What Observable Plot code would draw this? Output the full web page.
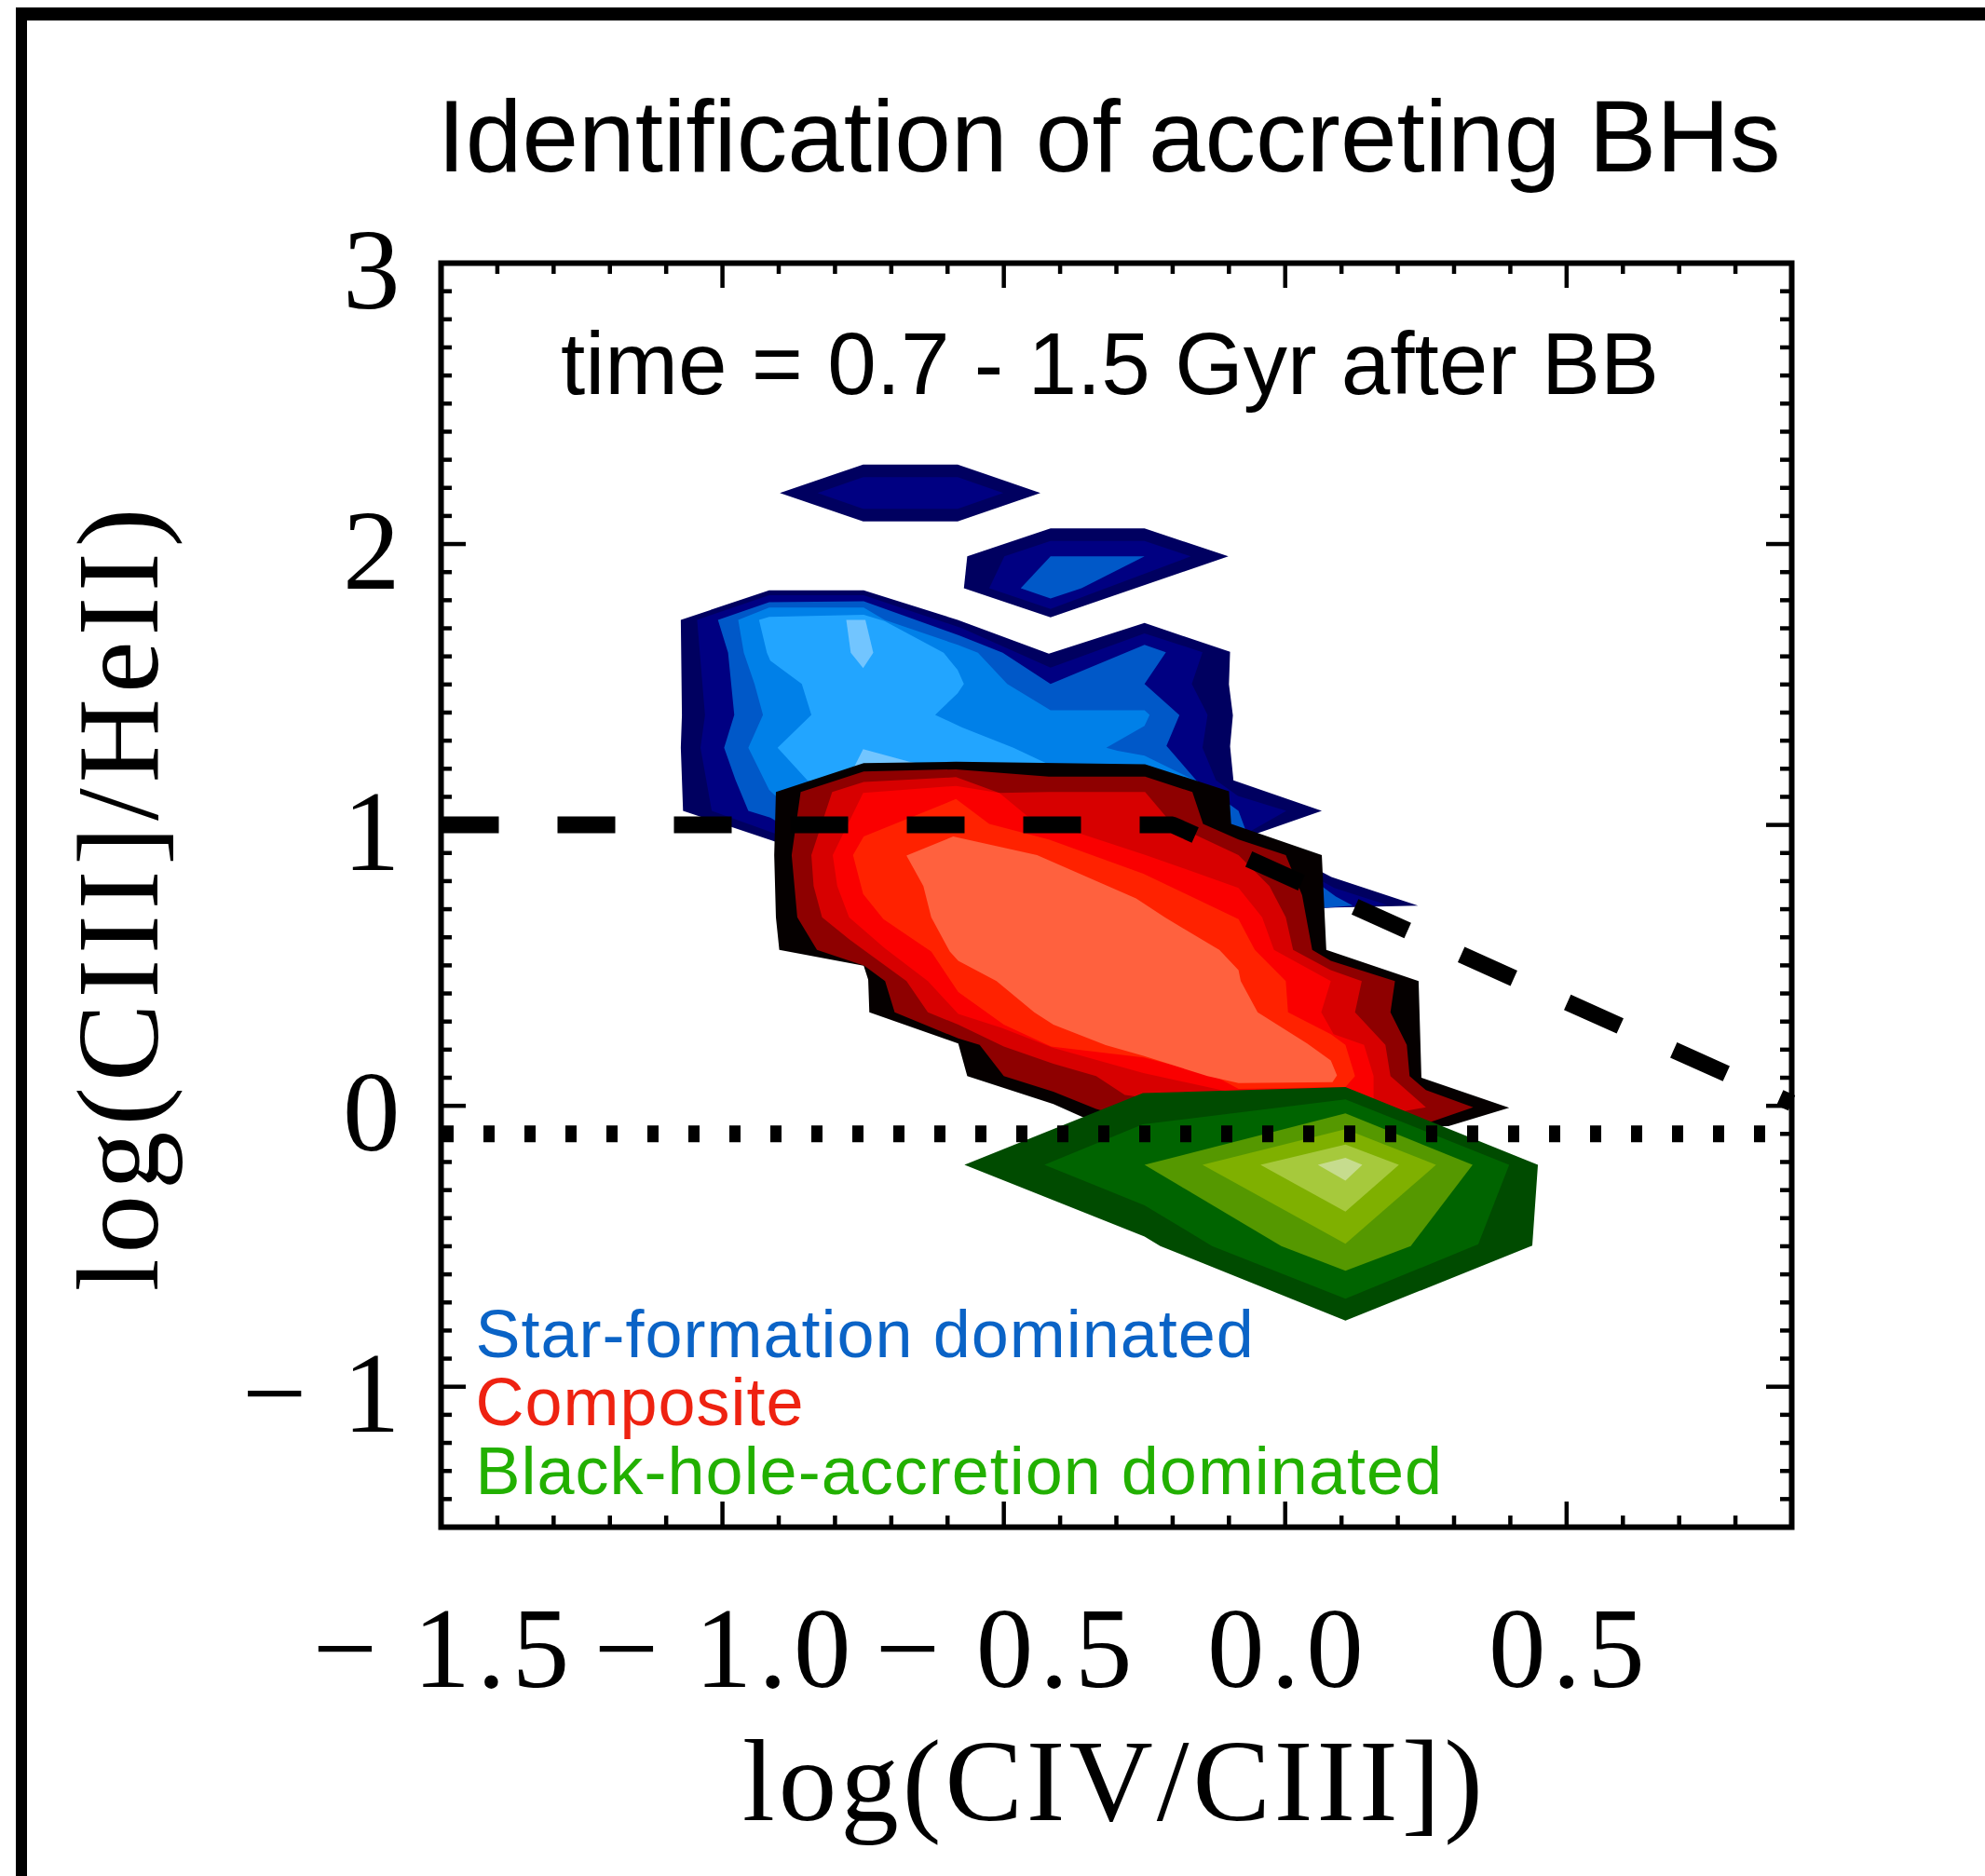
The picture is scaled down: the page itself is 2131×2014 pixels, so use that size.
<!DOCTYPE html>
<html><head><meta charset="utf-8">
<script src="https://cdn.jsdelivr.net/npm/d3@7"></script>
<script src="https://cdn.jsdelivr.net/npm/@observablehq/plot@0.6"></script>
<style>
html,body{margin:0;padding:0;background:#fff;overflow:hidden;}
#wrap{position:relative;width:2131px;height:2014px;background:#fff;}
#border{position:absolute;left:17px;top:8px;right:0;bottom:0;border-top:14px solid #000;border-left:12px solid #000;pointer-events:none;}
</style></head>
<body><div id="wrap"><div id="chart"></div><div id="border"></div></div>
<script>
// ---- texts ----
const titleText = "Identification of accreting BHs";
const timeText = "time = 0.7 - 1.5 Gyr after BB";
const xLabel = "log(CIV/CIII])";
const yLabel = "log(CIII]/HeII)";
const legendLabels = ["Star-formation dominated", "Composite", "Black-hole-accretion dominated"];
const legendColors = ["#0a63c6", "#ee2211", "#22b000"];

// ---- axes ----
const xDomain = [-1.5, 0.9];
const yDomain = [-1.5, 3];
const xMajor = [-1.5, -1.0, -0.5, 0.0, 0.5];
const xTickLabels = ["\u2212\u20091.5", "\u2212\u20091.0", "\u2212\u20090.5", "0.0", "0.5"];
const yMajor = [-1, 0, 1, 2, 3];
const yTickLabels = ["\u2212\u20091", "0", "1", "2", "3"];

// ---- reference lines ----
const demarcation = [[-1.5, 1.0], [-0.2, 1.0], [0.9, 0.01]];
const dottedY = [-0.1];

// ---- contour level colours ----
const blueLevels = ["#000060", "#000082", "#0058c8", "#0080e8", "#22a5ff", "#72c5ff"];
const redLevels = ["#050000", "#8e0000", "#d70000", "#fa0000", "#ff2200", "#ff613e"];
const greenLevels = ["#004b00", "#006400", "#559800", "#7fb000", "#a6c93c", "#c6dc8e"];

// ---- star-formation (blue) contours ----
const blueTop1 = [[-0.898,2.182],[-0.750,2.283],[-0.582,2.283],[-0.435,2.182],[-0.582,2.081],[-0.750,2.081]];
const blueTop2 = [[-0.831,2.182],[-0.750,2.238],[-0.582,2.238],[-0.501,2.182],[-0.582,2.125],[-0.750,2.125]];
const blueMid1 = [[-0.565,1.956],[-0.417,2.056],[-0.250,2.056],[-0.101,1.956],[-0.417,1.739],[-0.571,1.843]];
const blueMid2 = [[-0.499,1.956],[-0.417,2.011],[-0.250,2.011],[-0.168,1.956],[-0.417,1.769],[-0.526,1.843]];
const blueMid3 = [[-0.470,1.843],[-0.417,1.956],[-0.250,1.956],[-0.362,1.843],[-0.417,1.806]];
const blueMain1 = [[-1.074,1.730],[-0.917,1.835],[-0.749,1.835],[-0.582,1.730],[-0.420,1.610],[-0.250,1.719],[-0.098,1.616],[-0.100,1.500],[-0.093,1.390],[-0.098,1.280],[-0.092,1.159],[0.065,1.050],[-0.050,0.970],[0.020,0.880],[0.082,0.815],[0.236,0.713],[0.070,0.705],[-0.300,0.750],[-0.850,0.900],[-0.910,0.943],[-1.070,1.050],[-1.074,1.275],[-1.072,1.391]];
const blueMain2 = [[-1.045,1.730],[-0.917,1.818],[-0.749,1.818],[-0.574,1.700],[-0.417,1.560],[-0.250,1.682],[-0.147,1.615],[-0.166,1.502],[-0.138,1.392],[-0.147,1.275],[-0.123,1.159],[-0.084,1.103],[0.002,1.050],[-0.060,0.980],[0.020,0.850],[0.087,0.776],[0.181,0.715],[0.070,0.705],[-0.300,0.760],[-0.850,0.920],[-0.907,0.970],[-1.019,1.050],[-1.039,1.275],[-1.031,1.391]];
const blueMain3 = [[-1.008,1.730],[-0.917,1.793],[-0.749,1.796],[-0.579,1.674],[-0.502,1.613],[-0.417,1.502],[-0.250,1.641],[-0.212,1.615],[-0.250,1.502],[-0.188,1.391],[-0.211,1.281],[-0.158,1.159],[-0.083,1.050],[-0.070,0.980],[0.090,0.745],[0.120,0.713],[0.070,0.705],[-0.300,0.780],[-0.850,0.950],[-0.915,1.026],[-0.954,1.050],[-0.977,1.161],[-0.997,1.275],[-0.979,1.392],[-0.990,1.613]];
const blueMain4 = [[-0.972,1.730],[-0.917,1.774],[-0.749,1.774],[-0.712,1.730],[-0.582,1.641],[-0.546,1.613],[-0.494,1.502],[-0.417,1.408],[-0.250,1.408],[-0.241,1.392],[-0.250,1.353],[-0.318,1.275],[-0.298,1.264],[-0.250,1.247],[-0.161,1.159],[-0.300,0.900],[-0.850,1.000],[-0.917,1.125],[-0.954,1.275],[-0.928,1.392],[-0.943,1.502],[-0.962,1.613]];
const blueMain5 = [[-0.935,1.730],[-0.917,1.741],[-0.749,1.748],[-0.712,1.726],[-0.607,1.613],[-0.582,1.552],[-0.571,1.502],[-0.582,1.469],[-0.622,1.392],[-0.574,1.347],[-0.483,1.275],[-0.425,1.220],[-0.500,1.000],[-0.849,1.159],[-0.902,1.275],[-0.842,1.392],[-0.859,1.502],[-0.915,1.585],[-0.921,1.613]];
const blueMain6a = [[-0.780,1.730],[-0.746,1.730],[-0.732,1.613],[-0.750,1.558],[-0.772,1.613]];
const blueMain6b = [[-0.750,1.270],[-0.668,1.225],[-0.600,1.200],[-0.770,1.190]];

// ---- composite (red) contours ----
const red1 = [[-0.905,1.117],[-0.749,1.220],[-0.585,1.225],[-0.249,1.216],[-0.100,1.120],[-0.096,1.004],[0.065,0.893],[0.073,0.555],[0.237,0.444],[0.242,0.100],[0.398,-0.007],[0.290,-0.072],[0.100,-0.080],[-0.250,-0.070],[-0.360,-0.040],[-0.412,0.006],[-0.565,0.106],[-0.581,0.222],[-0.739,0.333],[-0.741,0.449],[-0.749,0.499],[-0.899,0.555],[-0.905,0.671],[-0.908,0.893]];
const red2 = [[-0.861,1.117],[-0.749,1.190],[-0.585,1.198],[-0.420,1.172],[-0.249,1.172],[-0.165,1.117],[-0.146,1.004],[-0.083,0.948],[0.001,0.893],[0.030,0.750],[0.048,0.555],[0.081,0.516],[0.195,0.444],[0.187,0.333],[0.216,0.217],[0.221,0.106],[0.250,0.056],[0.334,-0.005],[0.255,-0.060],[0.100,-0.070],[-0.250,-0.060],[-0.336,-0.011],[-0.412,0.050],[-0.500,0.106],[-0.543,0.217],[-0.581,0.240],[-0.694,0.333],[-0.711,0.444],[-0.748,0.499],[-0.832,0.555],[-0.867,0.671],[-0.877,0.893]];
const red3 = [[-0.805,1.117],[-0.749,1.153],[-0.585,1.170],[-0.508,1.114],[-0.420,1.117],[-0.249,1.117],[-0.201,1.004],[-0.083,0.893],[-0.028,0.782],[0.001,0.671],[0.014,0.555],[0.081,0.483],[0.136,0.444],[0.124,0.333],[0.178,0.217],[0.187,0.106],[0.250,-0.005],[0.204,-0.022],[0.100,-0.060],[-0.285,0.039],[-0.336,0.106],[-0.412,0.150],[-0.500,0.211],[-0.581,0.289],[-0.635,0.333],[-0.673,0.444],[-0.775,0.593],[-0.823,0.671],[-0.838,0.782],[-0.842,0.893]];
const red4 = [[-0.750,1.114],[-0.585,1.139],[-0.508,1.114],[-0.458,1.031],[-0.248,0.893],[-0.083,0.776],[-0.041,0.671],[-0.020,0.555],[0.081,0.444],[0.064,0.333],[0.086,0.255],[0.140,0.217],[0.157,0.106],[0.157,0.028],[0.100,-0.030],[-0.125,0.061],[-0.252,0.117],[-0.412,0.206],[-0.505,0.278],[-0.581,0.327],[-0.635,0.444],[-0.711,0.560],[-0.775,0.671],[-0.796,0.782],[-0.804,0.893]];
const red5 = [[-0.768,0.893],[-0.749,0.959],[-0.585,1.092],[-0.526,1.004],[-0.420,0.948],[-0.252,0.826],[-0.083,0.665],[-0.054,0.555],[0.001,0.444],[0.005,0.333],[0.081,0.255],[0.107,0.217],[0.124,0.106],[0.107,0.067],[-0.083,0.060],[-0.125,0.106],[-0.252,0.172],[-0.416,0.211],[-0.500,0.289],[-0.581,0.405],[-0.629,0.549],[-0.714,0.665],[-0.750,0.754]];
const red6 = [[-0.673,0.891],[-0.590,0.959],[-0.441,0.893],[-0.265,0.738],[-0.214,0.671],[-0.117,0.555],[-0.083,0.483],[-0.079,0.444],[-0.049,0.333],[0.039,0.222],[0.081,0.161],[0.092,0.108],[0.084,0.084],[-0.083,0.081],[-0.138,0.106],[-0.252,0.178],[-0.319,0.216],[-0.412,0.289],[-0.446,0.333],[-0.513,0.444],[-0.581,0.516],[-0.596,0.549],[-0.629,0.671],[-0.643,0.782]];

// ---- black-hole-accretion (green) contours ----
const green1 = [[-0.570,-0.210],[-0.253,0.045],[0.107,0.067],[0.449,-0.210],[0.439,-0.498],[0.107,-0.765],[-0.222,-0.499],[-0.250,-0.465]];
const green2 = [[-0.428,-0.210],[-0.253,-0.066],[0.107,0.023],[0.398,-0.210],[0.343,-0.493],[0.107,-0.687],[-0.130,-0.499],[-0.250,-0.354]];
const green3 = [[-0.250,-0.210],[0.107,-0.027],[0.333,-0.210],[0.223,-0.499],[0.107,-0.587],[-0.007,-0.499]];
const green4 = [[-0.147,-0.210],[0.107,-0.083],[0.268,-0.210],[0.107,-0.491]];
const green5 = [[-0.044,-0.210],[0.107,-0.138],[0.202,-0.210],[0.107,-0.377]];
const green6 = [[0.058,-0.210],[0.107,-0.185],[0.137,-0.210],[0.107,-0.266]];

// ---- layout ----
const W = 2131, H = 2014, mL = 473, mR = 208, mT = 282, mB = 375;
const plotW = W - mL - mR, plotH = H - mT - mB;
const majorLen = 27, minorLen = 12;

const xMinor = d3.range(-14, 9).map(i => i / 10).filter(v => !xMajor.some(m => Math.abs(m - v) < 1e-6));
const yMinor = d3.range(-14, 30).map(i => i / 10).filter(v => !yMajor.some(m => Math.abs(m - v) < 1e-6));

const layers = [
  [blueTop1, blueLevels[0]], [blueTop2, blueLevels[1]],
  [blueMid1, blueLevels[0]], [blueMid2, blueLevels[1]], [blueMid3, blueLevels[2]],
  [blueMain1, blueLevels[0]], [blueMain2, blueLevels[1]], [blueMain3, blueLevels[2]],
  [blueMain4, blueLevels[3]], [blueMain5, blueLevels[4]], [blueMain6a, blueLevels[5]], [blueMain6b, blueLevels[5]],
  [red1, redLevels[0]], [red2, redLevels[1]], [red3, redLevels[2]], [red4, redLevels[3]], [red5, redLevels[4]], [red6, redLevels[5]],
  [green1, greenLevels[0]], [green2, greenLevels[1]], [green3, greenLevels[2]], [green4, greenLevels[3]], [green5, greenLevels[4]], [green6, greenLevels[5]]
];

const serif = "'Liberation Serif', 'DejaVu Serif', serif";
const sans = "'Liberation Sans', Arial, Helvetica, sans-serif";
const tickLS = 7, xLabLS = 4, yLabLS = 6, legLS = 1;

const marks = [];
for (const [pts, fill] of layers) {
  marks.push(Plot.line(pts, {x: d => d[0], y: d => d[1], fill, stroke: "none"}));
}
marks.push(
  Plot.line(demarcation, {x: d => d[0], y: d => d[1], stroke: "#000", strokeWidth: 18, strokeDasharray: "62,63", strokeLinecap: "butt", strokeLinejoin: "miter"}),
  Plot.ruleY(dottedY, {y: d => d, stroke: "#000", strokeWidth: 18, strokeDasharray: "12,32", strokeDashoffset: -2, strokeLinecap: "butt"}),
  // ticks
  Plot.ruleX(xMajor, {x: d => d, stroke: "#000", strokeWidth: 4.5, insetTop: plotH - majorLen}),
  Plot.ruleX(xMajor, {x: d => d, stroke: "#000", strokeWidth: 4.5, insetBottom: plotH - majorLen}),
  Plot.ruleX(xMinor, {x: d => d, stroke: "#000", strokeWidth: 4.5, insetTop: plotH - minorLen}),
  Plot.ruleX(xMinor, {x: d => d, stroke: "#000", strokeWidth: 4.5, insetBottom: plotH - minorLen}),
  Plot.ruleY(yMajor, {y: d => d, stroke: "#000", strokeWidth: 4.5, insetRight: plotW - majorLen}),
  Plot.ruleY(yMajor, {y: d => d, stroke: "#000", strokeWidth: 4.5, insetLeft: plotW - majorLen}),
  Plot.ruleY(yMinor, {y: d => d, stroke: "#000", strokeWidth: 4.5, insetRight: plotW - minorLen}),
  Plot.ruleY(yMinor, {y: d => d, stroke: "#000", strokeWidth: 4.5, insetLeft: plotW - minorLen}),
  Plot.frame({stroke: "#000", strokeWidth: 6}),
  // tick labels
  Plot.text(xMajor, {x: d => d, frameAnchor: "bottom", dx: tickLS / 2, dy: 171, text: (d, i) => xTickLabels[i], lineAnchor: "bottom", textAnchor: "middle", fontSize: 123, fontFamily: serif, fill: "#000"}),
  Plot.text(yMajor, {y: d => d, frameAnchor: "left", dx: -44 + tickLS, dy: 48, text: (d, i) => yTickLabels[i], lineAnchor: "bottom", textAnchor: "end", fontSize: 123, fontFamily: serif, fill: "#000"}),
  // axis labels
  Plot.text([xLabel], {frameAnchor: "bottom", dx: -4 + xLabLS / 2, dy: 314, text: d => d, lineAnchor: "bottom", textAnchor: "middle", fontSize: 125, fontFamily: serif, fill: "#000"}),
  Plot.text([yLabel], {frameAnchor: "left", dx: -305, dy: 5 - yLabLS / 2, rotate: -90, text: d => d, lineAnchor: "bottom", textAnchor: "middle", fontSize: 125, fontFamily: serif, fill: "#000"}),
  // title and annotation
  Plot.text([titleText], {frameAnchor: "top", dx: -8, dy: -99, text: d => d, lineAnchor: "bottom", textAnchor: "middle", fontSize: 109, fontFamily: sans, fill: "#000"}),
  Plot.text([timeText], {frameAnchor: "top", dx: -7, dy: 140, text: d => d, lineAnchor: "bottom", textAnchor: "middle", fontSize: 94.5, fontFamily: sans, fill: "#000"})
);
const legendDy = [-183, -110, -36];
legendLabels.forEach((lab, i) => {
  marks.push(Plot.text([lab], {frameAnchor: "bottom-left", dx: 37, dy: legendDy[i], text: d => d, lineAnchor: "bottom", textAnchor: "start", fontSize: 72, fontFamily: sans, fill: legendColors[i]}));
});

const chart = Plot.plot({
  width: W, height: H,
  marginLeft: mL, marginRight: mR, marginTop: mT, marginBottom: mB,
  x: {domain: xDomain, axis: null},
  y: {domain: yDomain, axis: null},
  style: {background: "#fff", overflow: "visible"},
  marks
});
// letter spacing to mimic the wider plotting fonts
d3.select(chart).selectAll("text").each(function () {
  const t = this.textContent;
  if (xTickLabels.includes(t) || yTickLabels.includes(t)) this.style.letterSpacing = tickLS + "px";
  else if (t === xLabel) this.style.letterSpacing = xLabLS + "px";
  else if (t === yLabel) this.style.letterSpacing = yLabLS + "px";
  else if (legendLabels.includes(t)) this.style.letterSpacing = legLS + "px";
});
document.getElementById("chart").appendChild(chart);
</script>
</body></html>
